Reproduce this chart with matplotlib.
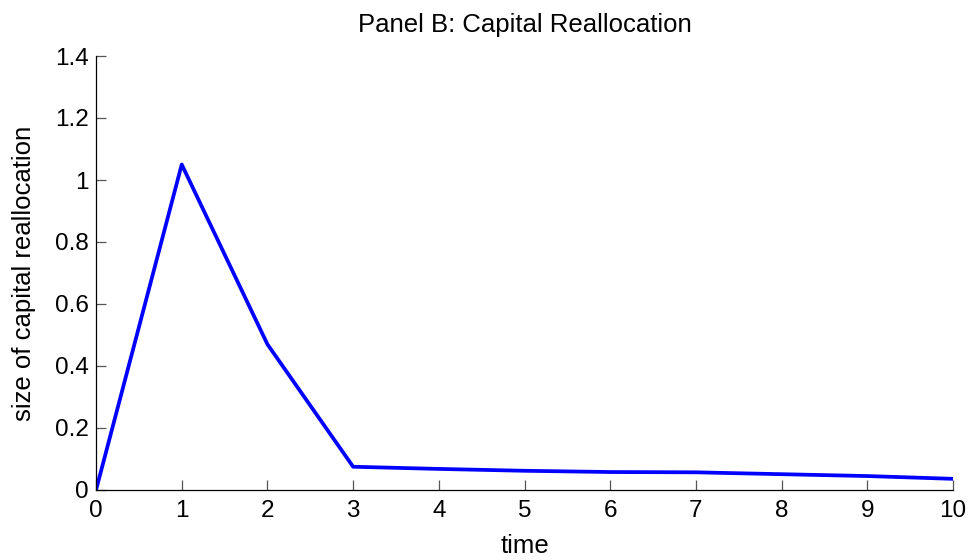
import numpy as np
import matplotlib
matplotlib.use("Agg")
import matplotlib.pyplot as plt

plt.rcParams['font.family'] = ['Liberation Sans', 'DejaVu Sans']

time = [0, 1, 2, 3, 4, 5, 6, 7, 8, 9, 10]
realloc = [0.0, 1.05, 0.47, 0.075, 0.068, 0.062, 0.058, 0.057, 0.051, 0.045, 0.036]

fig = plt.figure(figsize=(9.72, 5.6), dpi=100)
ax = fig.add_axes([0.0988, 0.125, 0.8817, 0.775])

ax.plot(time, realloc, color='#0000ff', linewidth=2.7)

ax.set_xlim(0, 10)
ax.set_ylim(0, 1.4)
ax.set_xticks(range(0, 11))
ax.set_yticks(np.arange(0, 1.41, 0.2))
ax.set_yticklabels(['0', '0.2', '0.4', '0.6', '0.8', '1', '1.2', '1.4'])

for side in ['top', 'right']:
    ax.spines[side].set_visible(False)
for side in ['left', 'bottom']:
    ax.spines[side].set_linewidth(0.9)
    ax.spines[side].set_color('black')

ax.tick_params(direction='in', length=7, width=0.9, color='#555555', labelsize=17.5, pad=5)
ax.tick_params(axis='x', pad=7)

ax.set_xlabel('time', fontsize=18.5, labelpad=9)
ax.set_ylabel('size of capital reallocation', fontsize=18.5, labelpad=14)
ax.set_title('Panel B: Capital Reallocation', fontsize=18.5, pad=17)

fig.savefig('out.png', dpi=100)
